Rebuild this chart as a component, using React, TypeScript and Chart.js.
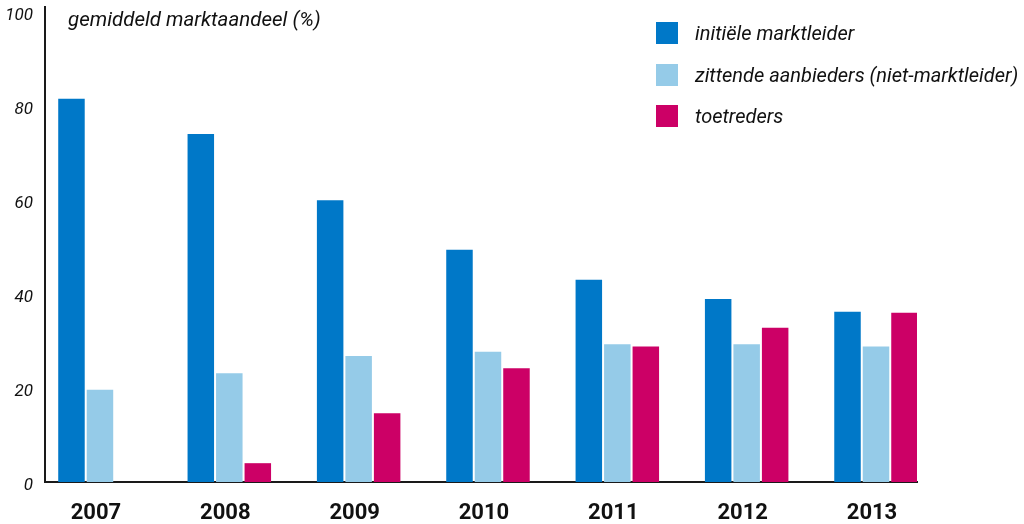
import React, { useEffect, useRef } from "react";
import { Chart, registerables } from "chart.js";

Chart.register(...registerables);

const categories = ["2007", "2008", "2009", "2010", "2011", "2012", "2013"];
const seriesLabels = [
  "initiële marktleider",
  "zittende aanbieders (niet-marktleider)",
  "toetreders",
];
const initieleMarktleider = [81.5, 74.0, 59.9, 49.4, 43.0, 38.9, 36.2];
const zittendeAanbieders = [19.6, 23.1, 26.8, 27.7, 29.3, 29.3, 28.8];
const toetreders: (number | null)[] = [null, 4.0, 14.6, 24.2, 28.8, 32.8, 36.0];
const yTickValues = [0, 20, 40, 60, 80, 100];
const yTitle = "gemiddeld marktaandeel (%)";

const seriesColors = ["#0078C8", "#95CBE8", "#CC0066"];
const seriesData = [initieleMarktleider, zittendeAanbieders, toetreders];

const FONT = "Roboto, 'Open Sans', sans-serif";

export default function App() {
  const canvasRef = useRef<HTMLCanvasElement | null>(null);

  useEffect(() => {
    if (!canvasRef.current) return;
    const chart = new Chart(canvasRef.current, {
      type: "bar",
      data: {
        datasets: seriesData.map((vals, s) => ({
          label: seriesLabels[s],
          data: vals.map((v, i) => ({ x: i, y: v })),
          backgroundColor: seriesColors[s],
          borderWidth: 0,
          categoryPercentage: 0.661,
          barPercentage: 0.93,
        })),
      },
      options: {
        animation: false,
        responsive: false,
        maintainAspectRatio: false,
        layout: { padding: { top: 7, right: 107, left: 0, bottom: 0 } },
        plugins: {
          legend: { display: false },
          tooltip: { enabled: false },
          title: { display: false },
        },
        scales: {
          x: {
            type: "linear",
            offset: false,
            min: -0.425,
            max: 6.317,
            grid: { display: false, drawTicks: false, offset: false },
            border: { display: true, color: "#1a1a1a", width: 2 },
            afterBuildTicks: (scale: any) => {
              scale.ticks = categories.map((_, i) => ({ value: i }));
            },
            afterFit: (scale: any) => {
              scale.height = 42;
              scale.paddingLeft = 0;
              scale.paddingRight = 0;
            },
            ticks: {
              padding: 18,
              labelOffset: -4,
              autoSkip: false,
              maxRotation: 0,
              color: "#111",
              font: { family: FONT, size: 22, weight: "bold" },
              callback: (value: any) => categories[Math.round(Number(value))] ?? "",
            },
          },
          y: {
            type: "linear",
            min: 0,
            max: 101,
            grid: { display: false, drawTicks: false },
            border: { display: true, color: "#1a1a1a", width: 2 },
            afterBuildTicks: (scale: any) => {
              scale.ticks = yTickValues.map((v) => ({ value: v }));
            },
            afterFit: (scale: any) => {
              scale.width = 45;
              scale.paddingTop = 0;
              scale.paddingBottom = 0;
            },
            ticks: {
              padding: 12,
              labelOffset: 4,
              color: "#111",
              font: { family: FONT, size: 17, style: "italic" },
              callback: (value: any) => String(value),
            },
          },
        },
      },
    });
    return () => chart.destroy();
  }, []);

  return (
    <div
      style={{
        position: "fixed",
        left: 0,
        top: 0,
        width: 1024,
        height: 524,
        background: "#fff",
        fontFamily: FONT,
      }}
    >
      <canvas ref={canvasRef} width={1024} height={524} style={{ display: "block" }} />
      <div
        style={{
          position: "absolute",
          left: 68,
          top: 7,
          fontSize: 20.5,
          fontStyle: "italic",
          color: "#111",
          lineHeight: "24px",
          whiteSpace: "nowrap",
        }}
      >
        {yTitle}
      </div>
      {seriesLabels.map((lab, s) => (
        <div
          key={lab}
          style={{
            position: "absolute",
            left: 656,
            top: 22 + s * 41.5,
            height: 22,
            display: "flex",
            alignItems: "center",
            whiteSpace: "nowrap",
          }}
        >
          <div style={{ width: 22, height: 22, background: seriesColors[s], marginRight: 17 }} />
          <span style={{ fontSize: 20, fontStyle: "italic", color: "#111" }}>{lab}</span>
        </div>
      ))}
    </div>
  );
}
